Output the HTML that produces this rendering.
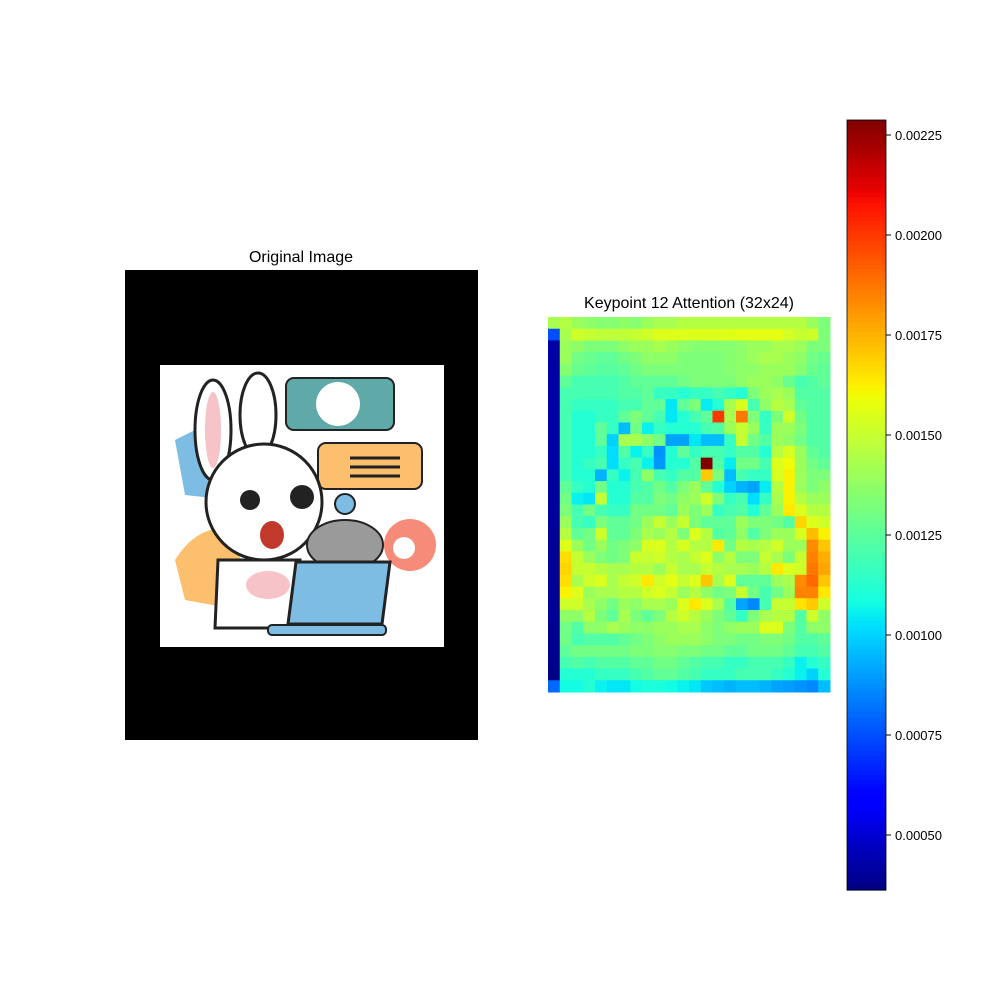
<!DOCTYPE html>
<html><head><meta charset="utf-8"><style>
body{margin:0;background:#fff;}
svg{display:block;font-family:"Liberation Sans","DejaVu Sans",sans-serif;}
</style></head><body>
<svg id="fig" width="1000" height="1000" viewBox="0 0 1000 1000">
 <rect width="1000" height="1000" fill="#fff"/>
 <g>
  <text x="301" y="262" text-anchor="middle" font-size="16">Original Image</text>
  <rect x="125" y="270" width="353" height="470" fill="#000"/>
  <rect x="160" y="365" width="284" height="282" fill="#fff"/>
  <g>
   <path d="M175 440 L215 420 L230 500 L185 495 Z" fill="#7dbde4"/>
   <path d="M175 560 Q200 520 240 530 L240 610 L185 600 Z" fill="#fbbf6e"/>
   <circle cx="410" cy="545" r="26" fill="#f58b78"/><circle cx="404" cy="548" r="11" fill="#fff"/>
   <rect x="286" y="378" width="108" height="52" rx="8" fill="#5fa9a8" stroke="#222" stroke-width="2"/>
   <circle cx="338" cy="404" r="22" fill="#fff"/>
   <rect x="318" y="443" width="104" height="46" rx="8" fill="#fbbf6e" stroke="#222" stroke-width="2"/>
   <line x1="350" y1="458" x2="400" y2="458" stroke="#222" stroke-width="3"/><line x1="350" y1="467" x2="400" y2="467" stroke="#222" stroke-width="3"/><line x1="350" y1="476" x2="400" y2="476" stroke="#222" stroke-width="3"/>
   <ellipse cx="213" cy="430" rx="18" ry="50" fill="#fff" stroke="#222" stroke-width="3"/>
   <ellipse cx="213" cy="430" rx="8" ry="38" fill="#f6c3c8"/>
   <ellipse cx="258" cy="415" rx="18" ry="42" fill="#fff" stroke="#222" stroke-width="3"/>
   <circle cx="264" cy="502" r="58" fill="#fff" stroke="#222" stroke-width="3"/>
   <circle cx="250" cy="500" r="10" fill="#222"/><circle cx="302" cy="497" r="12" fill="#222"/>
   <ellipse cx="272" cy="535" rx="12" ry="14" fill="#c0392b"/>
   <path d="M218 560 L300 560 L300 628 L215 628 Z" fill="#fff" stroke="#222" stroke-width="3"/>
   <ellipse cx="268" cy="585" rx="22" ry="14" fill="#f6c3c8"/>
   <ellipse cx="345" cy="545" rx="38" ry="25" fill="#9a9a9a" stroke="#222" stroke-width="2"/>
   <circle cx="345" cy="504" r="10" fill="#7dbde4" stroke="#222" stroke-width="2"/>
   <path d="M296 562 L390 562 L382 624 L288 624 Z" fill="#7dbde4" stroke="#222" stroke-width="3"/>
   <rect x="268" y="625" width="118" height="10" rx="4" fill="#7dbde4" stroke="#222" stroke-width="2"/>
  </g>
 </g>
 <text x="689" y="308" text-anchor="middle" font-size="16">Keypoint 12 Attention (32x24)</text>
 <g id="heat"></g>
 <g id="cbar"></g>
</svg>
<script>
// values in units of 1e-5
const rows = [
[143,146,140,137,135,135,137,135,140,143,143,146,146,146,146,146,146,146,146,146,146,146,140,133],
[75,143,152,150,148,148,148,150,152,155,155,155,155,155,155,156,157,157,157,157,153,150,152,133],
[42,140,137,133,133,133,137,140,140,143,140,137,135,135,135,135,137,140,140,143,143,140,133,133],
[42,140,130,128,126,126,130,133,137,137,137,133,133,133,133,135,137,140,143,143,140,137,130,128],
[42,135,128,126,124,124,126,130,133,133,133,133,133,133,133,135,137,137,140,140,140,135,128,126],
[42,126,120,120,120,120,123,126,126,126,126,130,133,133,133,133,137,140,140,137,128,120,123,126],
[42,120,120,120,120,120,123,123,126,116,116,112,116,116,120,116,112,133,140,143,140,123,123,123],
[42,120,116,116,116,116,120,120,126,126,104,126,133,105,112,143,154,120,137,146,143,126,123,123],
[42,120,112,112,116,116,126,133,126,120,104,112,120,126,200,143,187,133,116,133,152,130,123,123],
[42,120,112,112,126,116,96,130,106,116,112,112,112,120,123,140,150,140,116,140,140,133,123,123],
[42,120,112,112,126,100,143,143,137,130,91,91,104,96,96,116,150,130,123,140,137,130,123,123],
[42,120,112,112,116,102,123,106,116,88,112,126,116,120,120,116,123,123,112,146,154,140,126,123],
[42,120,112,116,120,102,116,120,106,89,112,112,123,229,123,105,130,130,120,155,160,140,130,126],
[41,120,112,112,94,116,106,120,137,120,116,123,123,170,133,96,120,116,116,154,162,140,133,133],
[41,126,116,112,130,112,112,120,123,130,123,133,140,126,112,100,94,91,105,146,162,140,133,137],
[41,130,106,104,150,112,112,123,123,133,130,137,140,152,133,116,120,102,116,143,162,146,140,140],
[41,133,120,130,120,116,116,130,130,130,126,140,133,140,116,120,123,112,126,140,164,155,146,146],
[41,140,120,116,133,126,126,130,140,150,140,150,133,126,126,126,140,133,133,130,123,168,155,152],
[40,146,126,130,152,126,126,133,143,140,146,133,155,146,123,126,137,123,133,140,140,154,173,162],
[40,156,140,130,140,130,133,137,154,155,146,154,146,146,164,130,146,143,146,152,140,140,183,171],
[40,166,150,140,133,130,133,151,150,152,146,143,150,155,137,146,133,133,150,143,133,150,185,176],
[40,168,150,150,146,143,143,146,146,140,150,143,143,150,146,143,143,140,146,164,155,152,187,178],
[40,166,143,152,155,143,150,152,164,152,157,150,155,171,143,155,126,126,126,140,143,183,190,171],
[40,162,155,140,143,143,146,146,152,155,150,140,146,137,130,133,150,130,120,130,140,185,185,164],
[40,152,152,143,137,130,140,137,143,143,140,155,164,155,143,123,91,86,120,150,150,165,170,152],
[40,137,137,146,133,126,143,133,126,133,146,152,146,140,133,126,116,133,143,146,146,123,152,137],
[39,130,123,137,137,143,140,137,137,140,140,143,143,137,133,137,140,140,155,155,133,123,137,137],
[39,130,120,123,123,123,126,130,133,137,140,140,140,137,133,133,130,130,133,133,130,123,123,126],
[39,126,130,130,130,130,130,133,133,135,135,133,133,130,130,126,126,130,130,130,126,120,120,123],
[38,120,123,120,123,123,123,126,126,130,130,126,123,120,120,116,116,120,120,120,116,106,112,116],
[37,112,112,112,116,116,116,120,123,126,126,123,120,116,116,116,120,120,120,116,112,106,100,112],
[80,108,108,112,106,104,104,108,110,110,108,106,104,98,96,94,96,96,94,91,90,88,86,96]
];
const cbTicks = [0.0005,0.00075,0.001,0.00125,0.0015,0.00175,0.002,0.00225];
const vmin = 0.0003625, vmax = 0.0022875;

const NS="http://www.w3.org/2000/svg";
function interp(t,pts){for(let k=0;k<pts.length-1;k++){const [x0,y0]=pts[k],[x1,y1]=pts[k+1];if(t<=x1)return y0+(y1-y0)*(t-x0)/(x1-x0);}return pts[pts.length-1][1];}
function jet(t){t=Math.max(0,Math.min(1,t));
 const r=interp(t,[[0,0],[0.35,0],[0.66,1],[0.89,1],[1,0.5]]);
 const g=interp(t,[[0,0],[0.125,0],[0.375,1],[0.64,1],[0.91,0],[1,0]]);
 const b=interp(t,[[0,0.5],[0.11,1],[0.34,1],[0.65,0],[1,0]]);
 const c=x=>Math.round(255*x);
 return `rgb(${c(r)},${c(g)},${c(b)})`;}
const hx0=548,hx1=830,hy0=317,hy1=692;
const nR=rows.length,nC=rows[0].length;
const cw=(hx1-hx0)/nC, ch=(hy1-hy0)/nR;
const xCol=j=>hx0+j*cw, yRow=i=>hy0+i*ch;
const norm=v=>(v-vmin)/(vmax-vmin);
const heat=document.getElementById('heat');
rows.forEach((r,i)=>r.forEach((val,j)=>{
 const el=document.createElementNS(NS,'rect');
 el.setAttribute('x',xCol(j));el.setAttribute('y',yRow(i));
 el.setAttribute('width',cw+0.5);el.setAttribute('height',ch+0.5);
 el.setAttribute('fill',jet(norm(val*1e-5)));
 
 
 heat.appendChild(el);
}));
const cb=document.getElementById('cbar');
const bx=847,bw=39,by0=120,by1=890;
const yCb=v=>by1-norm(v)*(by1-by0);
const N=160;
for(let k=0;k<N;k++){
 const el=document.createElementNS(NS,'rect');
 const y=by1-(k+1)*(by1-by0)/N;
 el.setAttribute('x',bx);el.setAttribute('y',y);el.setAttribute('width',bw);el.setAttribute('height',(by1-by0)/N+0.6);
 el.setAttribute('fill',jet((k+0.5)/N));
 
 
 cb.appendChild(el);
}
const fr=document.createElementNS(NS,'rect');
fr.setAttribute('x',bx);fr.setAttribute('y',by0);fr.setAttribute('width',bw);fr.setAttribute('height',by1-by0);
fr.setAttribute('fill','none');fr.setAttribute('stroke','#000');fr.setAttribute('stroke-width','0.8');


cb.appendChild(fr);
cbTicks.forEach(v=>{
 const y=yCb(v);
 const l=document.createElementNS(NS,'line');
 l.setAttribute('x1',bx+bw);l.setAttribute('x2',bx+bw+5);l.setAttribute('y1',y);l.setAttribute('y2',y);l.setAttribute('stroke','#000');
 
 
 cb.appendChild(l);
 const t=document.createElementNS(NS,'text');
 t.setAttribute('x',bx+bw+9);t.setAttribute('y',y+5);t.setAttribute('font-size','13');
 t.textContent=v.toFixed(5);
 
 
 cb.appendChild(t);
});
</script>
</body></html>
